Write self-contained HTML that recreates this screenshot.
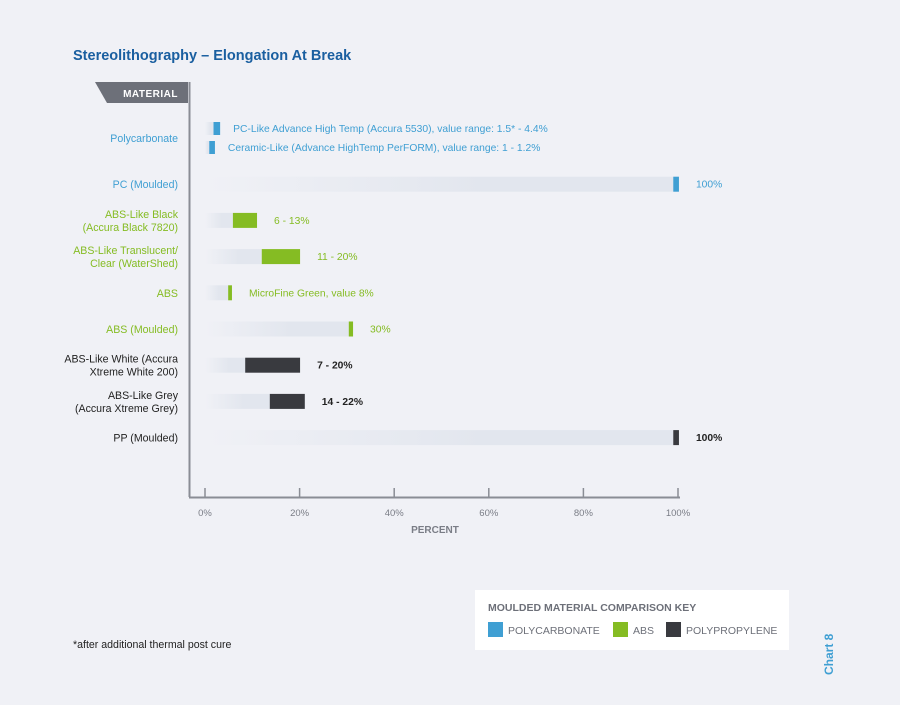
<!DOCTYPE html>
<html><head><meta charset="utf-8"><style>
body{margin:0;background:#f0f1f6;font-family:"Liberation Sans",sans-serif}
svg text{font-family:"Liberation Sans",sans-serif}
</style></head><body>
<svg id="chart" width="900" height="700" viewBox="0 0 900 700">
<defs>
<linearGradient id="trk" x1="0" x2="1" y1="0" y2="0"><stop offset="0" stop-color="#e2e6ee" stop-opacity="0"/><stop offset="0.6" stop-color="#e2e6ee"/><stop offset="1" stop-color="#e2e6ee"/></linearGradient>
</defs>
<rect width="900" height="700" fill="#f0f1f6"/>
<text x="73" y="60" font-size="14.5" font-weight="bold" fill="#1a5fa0">Stereolithography – Elongation At Break</text>
<polygon points="95,82 188,82 188,103 107,103" fill="#6d7079"/>
<text x="178" y="97" font-size="10" font-weight="bold" fill="#fff" text-anchor="end" letter-spacing="0.5">MATERIAL</text>
<line x1="189.5" y1="82" x2="189.5" y2="497" stroke="#8a8d95" stroke-width="2"/>
<line x1="189" y1="497.5" x2="680" y2="497.5" stroke="#8a8d95" stroke-width="2"/>
<g id="ticks"></g>
<text x="435" y="533" font-size="10" font-weight="bold" fill="#7a7d86" text-anchor="middle">PERCENT</text>
<g id="cats"></g>
<g id="bars"></g>
<text x="73" y="648" font-size="10.6" fill="#222">*after additional thermal post cure</text>
<g>
<rect x="475" y="590" width="314" height="60" fill="#fff"/>
<text x="488" y="611" font-size="10.5" font-weight="bold" fill="#6d7079">MOULDED MATERIAL COMPARISON KEY</text>
<rect x="488" y="622" width="15" height="15" fill="#3f9fd3"/>
<text x="508" y="634" font-size="10.5" fill="#6d7079">POLYCARBONATE</text>
<rect x="613" y="622" width="15" height="15" fill="#85bc23"/>
<text x="633" y="634" font-size="10.5" fill="#6d7079">ABS</text>
<rect x="666" y="622" width="15" height="15" fill="#393a3f"/>
<text x="686" y="634" font-size="10.5" fill="#6d7079">POLYPROPYLENE</text>
</g>
<text x="0" y="0" font-size="12" font-weight="bold" fill="#3f9fd3" transform="translate(833,675) rotate(-90)">Chart 8</text>
</svg>
<script>
const tickValues=[0,20,40,60,80,100];
const tickLabels=["0%","20%","40%","60%","80%","100%"];
const catLabels=[["Polycarbonate"],["PC (Moulded)"],["ABS-Like Black","(Accura Black 7820)"],["ABS-Like Translucent/","Clear (WaterShed)"],["ABS"],["ABS (Moulded)"],["ABS-Like White (Accura","Xtreme White 200)"],["ABS-Like Grey","(Accura Xtreme Grey)"],["PP (Moulded)"]];
const catColors=["#3f9fd3","#3f9fd3","#85bc23","#85bc23","#85bc23","#85bc23","#222","#222","#222"];
const barRow=[0,0,1,2,3,4,5,6,7,8];
const barSub=[-1,1,0,0,0,0,0,0,0,0];
const barStart=[1.8,0.9,99,5.9,12,4.9,30.4,8.5,13.7,99];
const barEnd=[3.2,2.1,100.2,11,20.1,5.7,31.3,20.1,21.1,100.2];
const barLabels=["PC-Like Advance High Temp (Accura 5530), value range: 1.5* - 4.4%","Ceramic-Like (Advance HighTemp PerFORM), value range: 1 - 1.2%","100%","6 - 13%","11 - 20%","MicroFine Green, value 8%","30%","7 - 20%","14 - 22%","100%"];
const barColors=["#3f9fd3","#3f9fd3","#3f9fd3","#85bc23","#85bc23","#85bc23","#85bc23","#393a3f","#393a3f","#393a3f"];
const NS="http://www.w3.org/2000/svg";
const x=v=>205+v*4.73;
const rowY=i=>138+i*36.2+(i>0?10:0);
function mk(t,a,p){const e=document.createElementNS(NS,t);for(const k in a)e.setAttribute(k,a[k]);p.appendChild(e);return e;}
const tg=document.getElementById('ticks');
tickValues.forEach((v,i)=>{
 const l=mk('line',{x1:x(v),x2:x(v),y1:488,y2:497,stroke:'#8a8d95','stroke-width':1.5},tg);
 
 
 const t=mk('text',{x:x(v),y:516,'font-size':9.5,fill:'#7a7d86','text-anchor':'middle'},tg);
 t.textContent=tickLabels[i];
 
 
});
const cg=document.getElementById('cats');
catLabels.forEach((lines,i)=>{
 const y=rowY(i);
 const t=mk('text',{x:178,'font-size':10.6,fill:catColors[i],'text-anchor':'end'},cg);
 
 
 lines.forEach((s,j)=>{const ts=mk('tspan',{x:178,y:y+4+(j-(lines.length-1)/2)*13},t);ts.textContent=s;});
});
const bg=document.getElementById('bars');
barStart.forEach((s,i)=>{
 const cy=rowY(barRow[i])+barSub[i]*9.5;
 const h=barSub[i]!==0?13:15;
 const tr=mk('rect',{x:x(0),y:cy-h/2,width:Math.max(0,x(s)-x(0)),height:h,fill:'url(#trk)'},bg);
 
 
 const r=mk('rect',{x:x(s),y:cy-h/2,width:x(barEnd[i])-x(s),height:h,fill:barColors[i]},bg);
 
 
 const t=mk('text',{x:x(barEnd[i])+(barSub[i]!==0?13:17),y:cy+3.5,'font-size':10.3,fill:barColors[i]==='#393a3f'?'#222':barColors[i],'font-weight':barColors[i]==='#393a3f'?'bold':'normal'},bg);
 t.textContent=barLabels[i];
 
 
});
</script>
</body></html>
